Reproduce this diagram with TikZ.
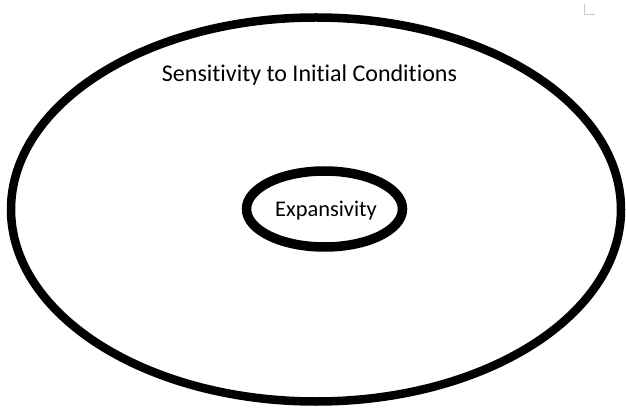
\documentclass[tikz,border=0pt]{standalone}
\usepackage{fontspec}
\setmainfont{Carlito}[Ligatures={NoCommon,NoContextual}]
\begin{document}
\begin{tikzpicture}[x=1pt,y=1pt]
    \useasboundingbox (0,0) rectangle (626,407);
    %ellisse esterna
    \draw[line width=8.5pt] (316,197.5) ellipse [x radius=305, y radius=192];
    %ellisse interna
    \draw[line width=9.5pt] (324.5,198) ellipse [x radius=78, y radius=38];
    %testi
    \node[anchor=base,inner sep=0pt,font=\fontsize{24}{26}\selectfont] (sens) at (309.5,325) {Sensitivity to Initial Conditions};
    \node[anchor=base,inner sep=0pt,font=\fontsize{22.4}{24}\selectfont] (expa) at (326,190) {Expansivity};
    %segno d'angolo
    \draw[gray!40,line width=1pt] (584,403)--++ (0,-11)--++ (11,0);
\end{tikzpicture}
\end{document}
